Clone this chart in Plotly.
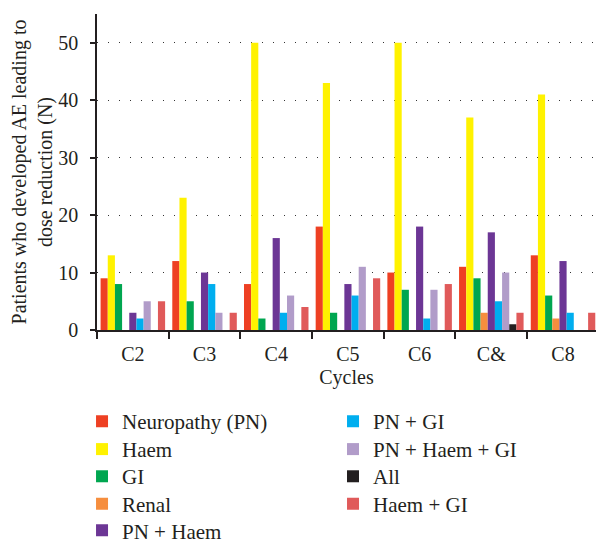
import plotly.graph_objects as go

categories = ["C2", "C3", "C4", "C5", "C6", "C&", "C8"]

neuropathy = [9, 12, 8, 18, 10, 11, 13]
haem = [13, 23, 50, 43, 50, 37, 41]
gi = [8, 5, 2, 3, 7, 9, 6]
renal = [0, 0, 0, 0, 0, 3, 2]
pn_haem = [3, 10, 16, 8, 18, 17, 12]
pn_gi = [2, 8, 3, 6, 2, 5, 3]
pn_haem_gi = [5, 3, 6, 11, 7, 10, 0]
all_ = [0, 0, 0, 0, 0, 1, 0]
haem_gi = [5, 3, 4, 9, 8, 3, 3]

series_names = ["Neuropathy (PN)", "Haem", "GI", "Renal", "PN + Haem",
                "PN + GI", "PN + Haem + GI", "All", "Haem + GI"]
series_values = [neuropathy, haem, gi, renal, pn_haem, pn_gi, pn_haem_gi, all_, haem_gi]
colors = ["#EE4023", "#FFF200", "#00A650", "#F68E3E", "#6C3695",
          "#00AEEF", "#B19CC9", "#231F20", "#E05A5A"]

FONT = "Liberation Serif, Times New Roman, serif"
TXT = "#231F20"

# legend layout: two columns (5 + 4 entries), each entry its own legend box
legend_cols_x = [-0.030] * 5 + [0.473] * 4
legend_rows_y = [-0.290, -0.378, -0.464, -0.551, -0.635,
                 -0.290, -0.378, -0.464, -0.551]

fig = go.Figure()
legend_layout = {}
for i, (name, vals, col) in enumerate(zip(series_names, series_values, colors)):
    lid = "legend" if i == 0 else f"legend{i + 1}"
    fig.add_trace(go.Bar(name=name, x=categories, y=vals,
                         marker=dict(color=col, line=dict(width=0)),
                         legend=lid, showlegend=True))
    legend_layout[lid] = dict(
        x=legend_cols_x[i], y=legend_rows_y[i], xanchor="left", yanchor="middle",
        font=dict(size=21, family=FONT, color=TXT),
        bgcolor="rgba(0,0,0,0)", tracegroupgap=0, orientation="v", visible=True,
    )

fig.update_layout(
    width=596, height=542, showlegend=True,
    margin=dict(l=97, r=0, t=14, b=212, autoexpand=False),
    paper_bgcolor="white", plot_bgcolor="white",
    font=dict(family=FONT, size=20, color=TXT),
    barmode="group", bargap=0.1, bargroupgap=0,
    xaxis=dict(
        showline=True, linecolor=TXT, linewidth=1.5,
        ticks="outside", tickson="boundaries", ticklen=7, tickcolor=TXT, tickwidth=1.5,
        ticklabelstandoff=5,
        tickfont=dict(size=20, family=FONT, color=TXT),
        title=dict(text="Cycles", font=dict(size=20, family=FONT, color=TXT), standoff=6),
        showgrid=False, range=[-0.5, 6.46], automargin=False,
    ),
    yaxis=dict(
        range=[0, 55], tickvals=[0, 10, 20, 30, 40, 50],
        showline=True, linecolor=TXT, linewidth=1.5,
        ticks="outside", ticklen=5, tickcolor=TXT, tickwidth=1.5,
        ticklabelstandoff=8, automargin=False,
        tickfont=dict(size=20, family=FONT, color=TXT),
        showgrid=True, gridcolor="#333333", gridwidth=1, griddash="1px,10px",
        zeroline=False,
        title=dict(text="Patients who developed AE leading to<br>dose reduction (N)",
                   font=dict(size=20, family=FONT, color=TXT), standoff=0),
    ),
    **legend_layout,
)

fig.write_html(
    "out.html",
    config={"displayModeBar": False},
    post_script="document.body.style.margin='0';document.body.style.overflow='hidden';",
)
